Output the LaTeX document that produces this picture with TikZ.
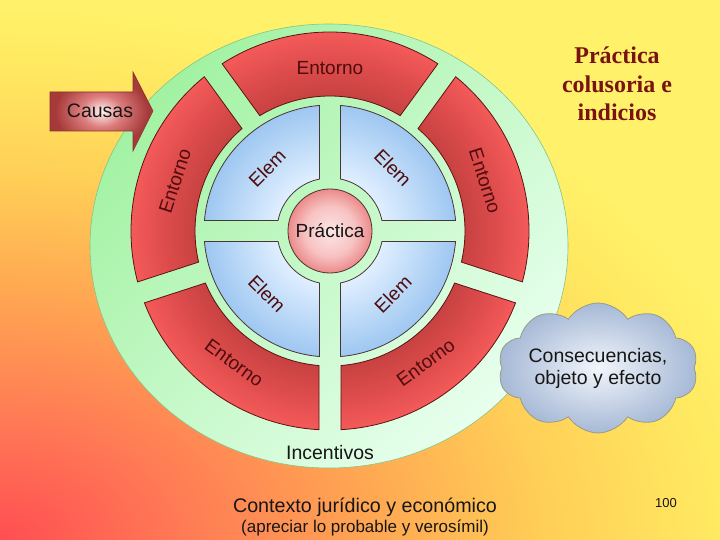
\documentclass[tikz,border=0pt]{standalone}
\usepackage{fontspec}
\usetikzlibrary{shapes.symbols}
\newfontfamily\arialf{Liberation Sans}
\newfontfamily\timesf{Liberation Serif}

\definecolor{bgA}{HTML}{FF4E52}
\definecolor{bgB}{HTML}{FF7A55}
\definecolor{bgC}{HTML}{FFA452}
\definecolor{bgD}{HTML}{FFCE56}
\definecolor{bgE}{HTML}{FFEA62}
\definecolor{bgF}{HTML}{FFF26A}
\definecolor{greenA}{HTML}{A2F2A2}
\definecolor{greenB}{HTML}{E8FFEE}
\definecolor{greenEdge}{HTML}{86C486}
\definecolor{redIn}{HTML}{C84242}
\definecolor{redMid}{HTML}{DE4C4C}
\definecolor{redOut}{HTML}{F45A5A}
\definecolor{redEdge}{HTML}{5E1212}
\definecolor{blueIn}{HTML}{E0EFFF}
\definecolor{blueOut}{HTML}{9EC7F1}
\definecolor{blueEdge}{HTML}{4A3434}
\definecolor{pinkIn}{HTML}{FDE6E6}
\definecolor{pinkMid}{HTML}{F7C2C2}
\definecolor{pinkOut}{HTML}{EC8A8A}
\definecolor{arrIn}{HTML}{FFF4F4}
\definecolor{arrMid}{HTML}{DC7C7C}
\definecolor{arrOut}{HTML}{A63A3A}
\definecolor{arrEdge}{HTML}{8A3030}
\definecolor{cloudIn}{HTML}{F2F5FB}
\definecolor{cloudOut}{HTML}{A6B9D6}
\definecolor{cloudEdge}{HTML}{9A9A88}
\definecolor{labRed}{HTML}{4E0C0C}
\definecolor{titleRed}{HTML}{7A1212}
\definecolor{txt}{HTML}{161616}

% the path's half-width corresponds to 25bp of a radial shading
\pgfdeclareradialshading{bgrad}{\pgfpoint{0bp}{0bp}}{color(0bp)=(bgA); color(5.6bp)=(bgB); color(11.1bp)=(bgC); color(16.7bp)=(bgD); color(22.2bp)=(bgE); color(25bp)=(bgF); color(50bp)=(bgF)}
\pgfdeclareradialshading{ringrad}{\pgfpoint{0bp}{0bp}}{color(0bp)=(redIn); color(17bp)=(redIn); color(21bp)=(redMid); color(25bp)=(redOut); color(50bp)=(redOut)}
\pgfdeclareradialshading{bluerad}{\pgfpoint{0bp}{0bp}}{color(0bp)=(white); color(10.5bp)=(blueIn); color(25bp)=(blueOut); color(50bp)=(blueOut)}
\pgfdeclareradialshading{pinkrad}{\pgfpoint{0bp}{0bp}}{color(0bp)=(pinkIn); color(15bp)=(pinkMid); color(25bp)=(pinkOut); color(50bp)=(pinkOut)}
\pgfdeclareradialshading{arrrad}{\pgfpoint{0bp}{0bp}}{color(0bp)=(arrIn); color(10bp)=(arrMid); color(22.5bp)=(arrOut); color(50bp)=(arrOut)}
\pgfdeclareradialshading{cloudrad}{\pgfpoint{0bp}{0bp}}{color(0bp)=(cloudIn); color(25bp)=(cloudOut); color(50bp)=(cloudOut)}

% annular sector between two gap directions, with gaps of constant width
\newcommand\segpath[5]{({#1+asin(#5/#3)}:#3pt) arc[start angle={#1+asin(#5/#3)}, end angle={#2-asin(#5/#3)}, radius=#3pt] -- ({#2-asin(#5/#4)}:#4pt) arc[start angle={#2-asin(#5/#4)}, end angle={#1+asin(#5/#4)}, radius=#4pt] -- cycle}
\newcommand\redseg[2]{%
  \begin{scope}\clip \segpath{#1}{#2}{199}{135}{11};
    \shade[shading=ringrad] (0,0) circle[radius=199pt];\end{scope}
  \draw[segline, draw=redEdge] \segpath{#1}{#2}{199}{135}{11};}
\newcommand\blueseg[2]{%
  \begin{scope}\clip \segpath{#1}{#2}{126}{53}{10.5};
    \shade[shading=bluerad] (0,0) circle[radius=126pt];\end{scope}
  \draw[segline, draw=blueEdge] \segpath{#1}{#2}{126}{53}{10.5};}

\begin{document}
\begin{tikzpicture}[x=1pt,y=1pt, font=\arialf,
  segline/.style={line width=0.8pt},
  lab/.style={text=labRed, font=\arialf\fontsize{19}{22}\selectfont, inner sep=0pt},
  plain/.style={text=txt, font=\arialf\fontsize{19.5}{22.5}\selectfont, inner sep=0pt, align=center}]
\useasboundingbox (0,0) rectangle (720,540);
\begin{scope}
  \clip (0,0) rectangle (720,540);
  \shade[shading=bgrad] (-810,-540) rectangle (810,540);
\end{scope}
% outer green disc
\shadedraw[top color=greenA, bottom color=greenB, shading angle=45, draw=greenEdge, line width=0.6pt]
  (329,294) ellipse[x radius=239pt, y radius=222pt];

\begin{scope}[shift={(330,309)}]
  \redseg{270}{342}
  \redseg{342}{414}
  \redseg{54}{126}
  \redseg{126}{198}
  \redseg{198}{270}
  \blueseg{0}{90}
  \blueseg{90}{180}
  \blueseg{180}{270}
  \blueseg{270}{360}
  \node[circle, minimum size=84pt, shade, shading=pinkrad, draw=blueEdge, line width=0.8pt,
        text=txt, font=\arialf\fontsize{19}{22}\selectfont, inner sep=0pt] (prac) at (0,0) {Práctica};
  \node[lab] (ent1) at (90:163pt) {Entorno};
  \node[lab, rotate=72] (ent2) at (162:163pt) {Entorno};
  \node[lab, rotate=-36] (ent3) at (234:163pt) {Entorno};
  \node[lab, rotate=36] (ent4) at (306:163pt) {Entorno};
  \node[lab, rotate=-72] (ent5) at (18:163pt) {Entorno};
  \node[lab, rotate=-45] (el1) at (45:89pt) {Elem};
  \node[lab, rotate=45] (el2) at (135:89pt) {Elem};
  \node[lab, rotate=-45] (el3) at (225:89pt) {Elem};
  \node[lab, rotate=45] (el4) at (315:89pt) {Elem};
\end{scope}

\node[plain] (inc) at (330,87) {Incentivos};

% Causas arrow
\shadedraw[shading=arrrad, draw=arrEdge, line width=0.6pt]
  (50,448) -- (133,448) -- (133,468) -- (153,429) -- (133,389) -- (133,409) -- (50,409) -- cycle;
\node[plain] (causas) at (100,429) {Causas};

% cloud
\node[cloud, cloud puffs=10, cloud puff arc=115, cloud ignores aspect,
      minimum width=200pt, minimum height=130pt, shade, shading=cloudrad,
      draw=cloudEdge, line width=0.8pt] (cloud) at (598,172) {};
\node[plain] (cons) at (598,171.5) {Consecuencias,\\objeto y efecto};

% title
\node[text=titleRed, font=\timesf\bfseries\fontsize{24}{28.5}\selectfont, align=center, inner sep=0pt]
  (title) at (617,456) {Práctica\\colusoria e\\indicios};

% bottom texts
\node[text=txt, font=\arialf\fontsize{19.7}{23}\selectfont, inner sep=0pt] (ctx) at (365,33) {Contexto jurídico y económico};
\node[text=txt, font=\arialf\fontsize{17}{20}\selectfont, inner sep=0pt] (apr) at (365,12) {(apreciar lo probable y verosímil)};
\node[text=txt, font=\arialf\fontsize{13}{15}\selectfont, inner sep=0pt] (pg) at (666,37) {100};
\end{tikzpicture}
\end{document}
